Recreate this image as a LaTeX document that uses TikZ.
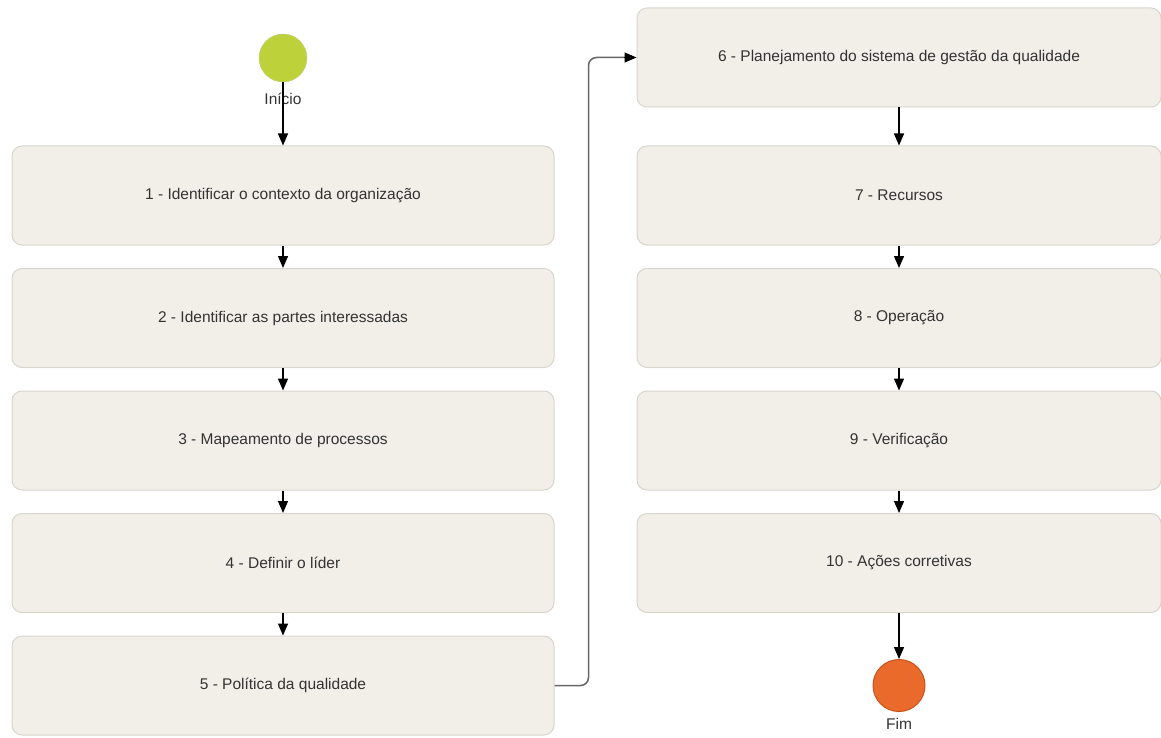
\documentclass[tikz,border=0pt]{standalone}
\usepackage{fontspec}
\setmainfont{Liberation Sans}
\usepackage{tikz}
\usetikzlibrary{positioning, arrows.meta}

\definecolor{boxfill}{HTML}{F2EFE9}
\definecolor{boxline}{HTML}{D8D5CD}
\definecolor{startfill}{HTML}{BDD23A}
\definecolor{endfill}{HTML}{EA6A2C}
\definecolor{endline}{HTML}{C9521C}
\definecolor{txt}{HTML}{333333}

\begin{document}
\begin{tikzpicture}[node distance=22.5pt,
  font=\fontsize{15.5}{18}\selectfont, text=txt,
  step box/.style={rectangle, rounded corners=10pt, draw=boxline, fill=boxfill,
    line width=1pt, minimum width=542pt, minimum height=99pt},
  right box/.style={step box, minimum width=524pt},
  start node/.style={circle, fill=startfill, draw=startfill!80!black!60, minimum size=48pt, inner sep=0pt},
  end node/.style={circle, fill=endfill, draw=endline, line width=1pt, minimum size=52pt, inner sep=0pt},
  flow/.style={line width=1.3pt, -{Triangle[length=12pt,width=10pt]}}]

\useasboundingbox (0,0) rectangle (1161pt,-738pt);

\node[start node] (start) at (283pt,-58pt) {};
\node[below=7pt of start] (startlabel) {Início};

\node[step box] (A) at (283pt,-195.5pt) {1 - Identificar o contexto da organização};
\node[step box] (B) [below=of A] {2 - Identificar as partes interessadas};
\node[step box] (C) [below=of B] {3 - Mapeamento de processos};
\node[step box] (D) [below=of C] {4 - Definir o líder};
\node[step box] (E) [below=of D] {5 - Política da qualidade};

\node[right box] (G) [right=82pt of A] {7 - Recursos};
\node[right box] (F) [above=38pt of G] {6 - Planejamento do sistema de gestão da qualidade};
\node[right box] (H) [below=of G] {8 - Operação};
\node[right box] (I) [below=of H] {9 - Verificação};
\node[right box] (J) [below=of I] {10 - Ações corretivas};

\node[end node] (fim) [below=46pt of J] {};
\node[below=3pt of fim] (fimlabel) {Fim};

\draw[flow] (start) -- (A);
\draw[flow] (A) -- (B);
\draw[flow] (B) -- (C);
\draw[flow] (C) -- (D);
\draw[flow] (D) -- (E);
\draw[line width=1.5pt, draw=black!60, rounded corners=8pt]
  (E.east) -- ++(34pt,0) |- ([xshift=-12pt]F.west);
\draw[flow] ([xshift=-13pt]F.west) -- (F.west);
\draw[flow] (F) -- (G);
\draw[flow] (G) -- (H);
\draw[flow] (H) -- (I);
\draw[flow] (I) -- (J);
\draw[flow] (J) -- (fim);

\end{tikzpicture}
\end{document}
